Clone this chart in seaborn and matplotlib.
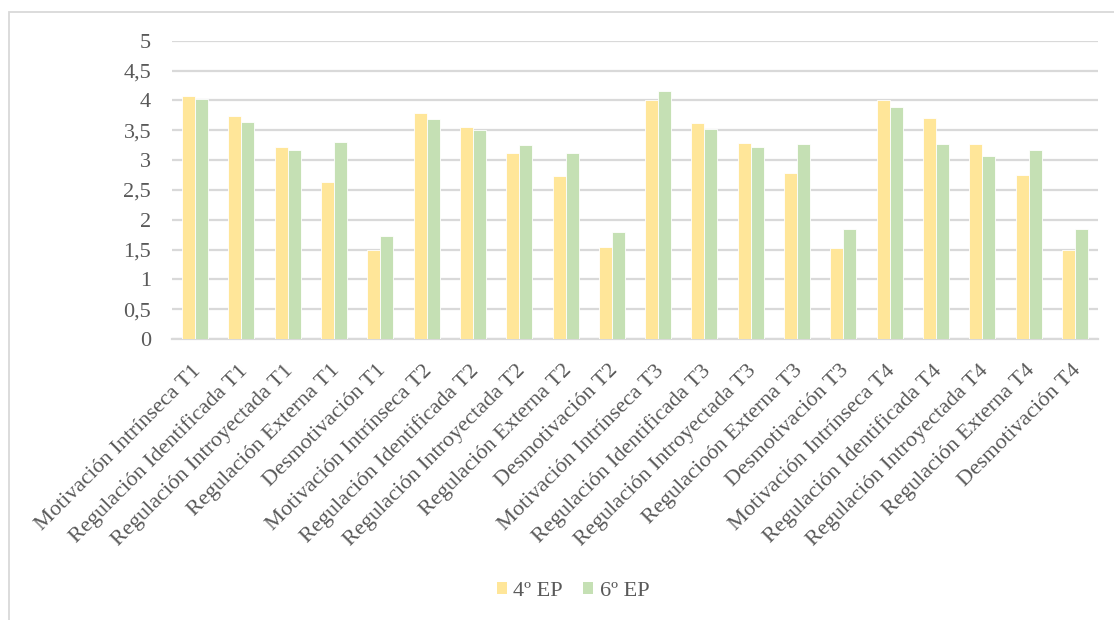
import matplotlib
matplotlib.use("Agg")
import matplotlib.pyplot as plt
import matplotlib.patches as mpatches
import matplotlib.transforms as mtransforms
import seaborn as sns
import pandas as pd

categories = [
    "Motivación Intrínseca T1", "Regulación Identificada T1", "Regulación Introyectada T1",
    "Regulación Externa T1", "Desmotivación T1",
    "Motivación Intrínseca T2", "Regulación Identificada T2", "Regulación Introyectada T2",
    "Regulación Externa T2", "Desmotivación T2",
    "Motivación Intrínseca T3", "Regulación Identificada T3", "Regulación Introyectada T3",
    "Regulacioón Externa T3", "Desmotivación T3",
    "Motivación Intrínseca T4", "Regulación Identificada T4", "Regulación Introyectada T4",
    "Regulación Externa T4", "Desmotivación T4",
]
series_names = ["4º EP", "6º EP"]
values_4ep = [4.08, 3.74, 3.21, 2.63, 1.50,
              3.78, 3.56, 3.11, 2.73, 1.55,
              4.00, 3.62, 3.29, 2.79, 1.53,
              4.01, 3.70, 3.27, 2.75, 1.49]
values_6ep = [4.02, 3.64, 3.17, 3.31, 1.72,
              3.69, 3.50, 3.25, 3.12, 1.80,
              4.16, 3.52, 3.21, 3.27, 1.84,
              3.89, 3.27, 3.07, 3.17, 1.84]
y_ticks = [0, 0.5, 1, 1.5, 2, 2.5, 3, 3.5, 4, 4.5, 5]
y_tick_labels = ["0", "0,5", "1", "1,5", "2", "2,5", "3", "3,5", "4", "4,5", "5"]

colors = ["#FFE699", "#C5E0B4"]
text_color = "#595959"
grid_color = "#D9D9D9"

df = pd.DataFrame({
    "cat": categories * 2,
    "val": values_4ep + values_6ep,
    "grupo": [series_names[0]] * len(categories) + [series_names[1]] * len(categories),
})

sns.set_theme(style="white")
plt.rcParams["font.family"] = ["Liberation Serif", "DejaVu Serif"]

fig = plt.figure(figsize=(11.14, 6.2), dpi=100)
ax = fig.add_axes([172 / 1114, 1 - 339 / 620, (1098 - 172) / 1114, (339 - 40.7) / 620])

sns.barplot(data=df, x="cat", y="val", hue="grupo", order=categories,
            hue_order=series_names, palette=colors, saturation=1, width=0.56,
            edgecolor="white", linewidth=0.6, errorbar=None, ax=ax, legend=False,
            zorder=3)

ax.set_ylim(0, 5)
ax.set_xlim(-0.5, len(categories) - 0.5)
ax.set_yticks(y_ticks)
ax.set_yticklabels(y_tick_labels)
ax.yaxis.grid(True, color=grid_color, linewidth=1.6, zorder=0)
ax.set_axisbelow(True)
for s in ["top", "right", "left"]:
    ax.spines[s].set_visible(False)
ax.spines["bottom"].set_color(grid_color)
ax.spines["bottom"].set_linewidth(1.6)
ax.set_xlabel("")
ax.set_ylabel("")
ax.tick_params(axis="y", length=0, pad=15, labelsize=16, labelcolor=text_color)
ax.tick_params(axis="x", length=0, pad=10, labelsize=16, labelcolor=text_color)
offset = mtransforms.ScaledTranslation(3 / 100, -15 / 100, fig.dpi_scale_trans)
for lbl in ax.get_xticklabels():
    lbl.set_rotation(45)
    lbl.set_ha("right")
    lbl.set_va("center")
    lbl.set_rotation_mode("anchor")
    lbl.set_transform(lbl.get_transform() + offset)

handles = [mpatches.Patch(facecolor=c, edgecolor="none") for c in colors]
fig.legend(handles, series_names, loc="center", bbox_to_anchor=(573 / 1114, 1 - 591 / 620),
           ncol=2, frameon=False, fontsize=16, labelcolor=text_color,
           handlelength=0.45, handleheight=0.45, handletextpad=0.3, columnspacing=0.9)

border = mpatches.Rectangle((9 / 1114, -0.05), 1.1, 1 - 12 / 620 + 0.05,
                            transform=fig.transFigure, fill=False,
                            edgecolor=grid_color, linewidth=1.3)
fig.add_artist(border)

fig.savefig("out.png", dpi=100, facecolor="white")
